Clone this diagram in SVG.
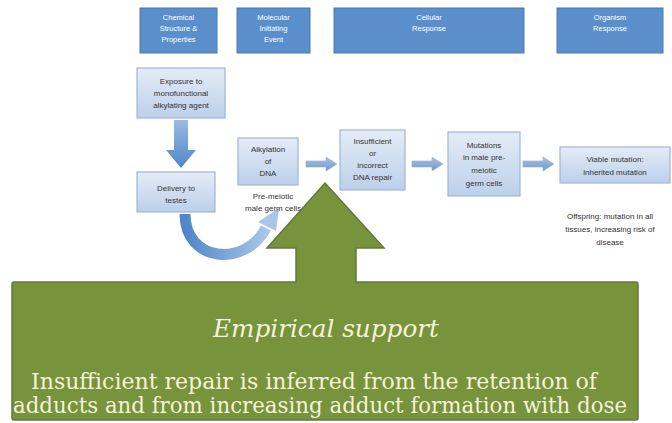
<svg xmlns="http://www.w3.org/2000/svg" width="672" height="423" viewBox="0 0 672 423">
<defs>
<linearGradient id="boxg" x1="0" y1="0" x2="0" y2="1">
<stop offset="0" stop-color="#e4ecf7"/>
<stop offset="1" stop-color="#bcd0ea"/>
</linearGradient>
<linearGradient id="arrg" x1="0" y1="0" x2="0" y2="1">
<stop offset="0" stop-color="#a9c2e3"/>
<stop offset="1" stop-color="#7099cc"/>
</linearGradient>
<linearGradient id="downg" x1="0" y1="0" x2="0" y2="1">
<stop offset="0" stop-color="#9bbbe3"/>
<stop offset="1" stop-color="#4f86c8"/>
</linearGradient>
<linearGradient id="curveg" x1="0" y1="0" x2="1" y2="0">
<stop offset="0" stop-color="#4f86c8"/>
<stop offset="1" stop-color="#a9c5e8"/>
</linearGradient>
<style>
.hdr{fill:#5b8fcc;stroke:#4a78b0;stroke-width:1}
.hdrt{font-size:7.5px;fill:#ffffff;text-anchor:middle}
.box{fill:url(#boxg);stroke:#9fb6d6;stroke-width:1.2}
.bt{font-size:8px;fill:#333333;text-anchor:middle}
.sa{fill:url(#arrg);stroke:#8fb0d9;stroke-width:0.6}
.green{fill:#77933c;stroke:#62793a;stroke-width:1.5}
.gt{fill:#f4f2d8;text-anchor:middle}
</style>
</defs>
<rect width="672" height="423" fill="#ffffff"/>
<g font-family="'Liberation Sans', 'DejaVu Sans', Arial, sans-serif">
<g id="hdr-chem"><rect class="hdr" x="140" y="8" width="77" height="45"/>
<text class="hdrt" x="178.5" y="20">Chemical</text><text class="hdrt" x="178.5" y="31">Structure &amp;</text><text class="hdrt" x="178.5" y="42">Properties</text></g>
<g id="hdr-mie"><rect class="hdr" x="237" y="8" width="73" height="45"/>
<text class="hdrt" x="273.5" y="20">Molecular</text><text class="hdrt" x="273.5" y="31">Initiating</text><text class="hdrt" x="273.5" y="42">Event</text></g>
<g id="hdr-cell"><rect class="hdr" x="334" y="8" width="190" height="45"/>
<text class="hdrt" x="429" y="20">Cellular</text><text class="hdrt" x="429" y="31">Response</text></g>
<g id="hdr-org"><rect class="hdr" x="557" y="8" width="106" height="45"/>
<text class="hdrt" x="610" y="20">Organism</text><text class="hdrt" x="610" y="31">Response</text></g>

<g id="connectors">
<polygon points="174,120 188,120 188,150 196,150 181,168 166,150 174,150" fill="url(#downg)"/>
<path d="M185,214 C185,262 245,268 266,228" fill="none" stroke="url(#curveg)" stroke-width="11"/>
<polygon points="258,222 276,231 279,208" fill="#a9c5e8"/>
<polygon class="sa" points="306,161 326,161 326,157 337,164 326,171 326,167 306,167"/>
<polygon class="sa" points="412,161 432,161 432,157 443,164 432,171 432,167 412,167"/>
<polygon class="sa" points="523,161 543,161 543,157 554,164 543,171 543,167 523,167"/>
</g>

<g id="n-exposure"><rect class="box" x="137" y="68" width="88" height="50"/>
<text class="bt" x="181" y="84">Exposure to</text><text class="bt" x="181" y="96">monofunctional</text><text class="bt" x="181" y="108">alkylating agent</text></g>
<g id="n-delivery"><rect class="box" x="137" y="172" width="78" height="40"/>
<text class="bt" x="176" y="191">Delivery to</text><text class="bt" x="176" y="203">testes</text></g>
<g id="n-alkyl"><rect class="box" x="238" y="138" width="60" height="47"/>
<text class="bt" x="268" y="152">Alkylation</text><text class="bt" x="268" y="164">of</text><text class="bt" x="268" y="176">DNA</text></g>
<g id="t-premeiotic"><text class="bt" x="273" y="199">Pre-meiotic</text><text class="bt" x="273" y="211">male germ cells</text></g>
<g id="n-repair"><rect class="box" x="340" y="130" width="65" height="60"/>
<text class="bt" x="372.5" y="144">Insufficient</text><text class="bt" x="372.5" y="156">or</text><text class="bt" x="372.5" y="168">incorrect</text><text class="bt" x="372.5" y="180">DNA repair</text></g>
<g id="n-mut"><rect class="box" x="448" y="132" width="72" height="64"/>
<text class="bt" x="484" y="148">Mutations</text><text class="bt" x="484" y="160">in male pre-</text><text class="bt" x="484" y="173">meiotic</text><text class="bt" x="484" y="186">germ cells</text></g>
<g id="n-viable"><rect class="box" x="560" y="147" width="110" height="36"/>
<text class="bt" x="615" y="162">Viable mutation:</text><text class="bt" x="615" y="175">inherited mutation</text></g>
<g id="t-offspring"><text class="bt" x="610" y="219">Offspring: mutation in all</text><text class="bt" x="610" y="232">tissues, increasing risk of</text><text class="bt" x="610" y="245">disease</text></g>
</g>

<g id="n-empirical" font-family="'DejaVu Serif', 'Liberation Serif', 'Times New Roman', serif">
<polygon class="green" points="325,183 384,248 356,248 356,283 296,283 296,248 267,248"/>
<rect class="green" x="12" y="282" width="626" height="138" rx="2"/>
<rect x="297" y="279" width="58" height="6" fill="#77933c"/>
<text class="gt" x="326" y="337" font-size="24" font-style="italic" textLength="226" lengthAdjust="spacingAndGlyphs">Empirical support</text>
<text class="gt" x="314" y="389" font-size="22" textLength="566" lengthAdjust="spacingAndGlyphs">Insufficient repair is inferred from the retention of</text>
<text class="gt" x="320" y="413" font-size="22" textLength="614" lengthAdjust="spacingAndGlyphs">adducts and from increasing adduct formation with dose</text>
</g>
</svg>
